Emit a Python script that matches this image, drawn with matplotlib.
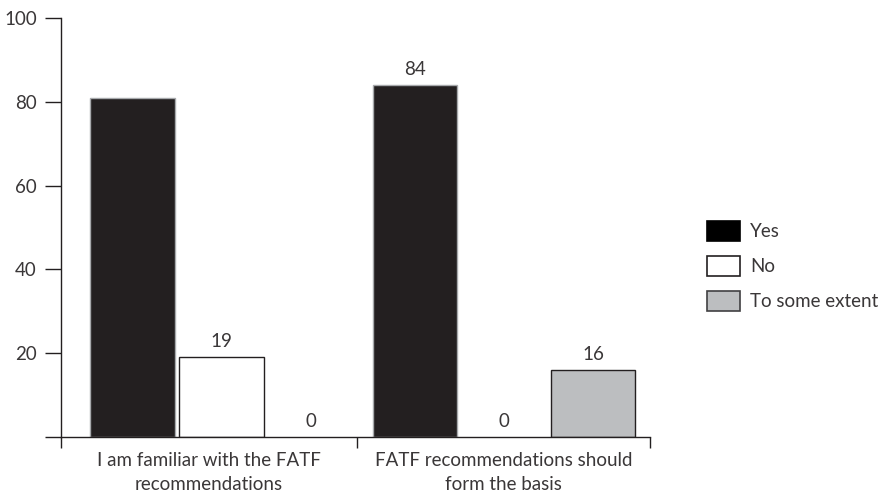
import matplotlib.pyplot as plt
import numpy as np
from matplotlib.patches import Patch
from matplotlib.ticker import FixedLocator

plt.rcParams["font.family"] = ["Lato", "DejaVu Sans"]

categories = ["I am familiar with the FATF\nrecommendations",
              "FATF recommendations should\nform the basis"]
series = ["Yes", "No", "To some extent"]
yes = [81, 84]
no = [19, 0]
some_extent = [0, 16]
show_label = [[False, True], [True, True], [True, True]]
yticks = [0, 20, 40, 60, 80, 100]
ytick_labels = ["", "20", "40", "60", "80", "100"]

colors = ["#231f20", "#ffffff", "#bcbec0"]
edges = ["#a7a9ac", "#231f20", "#231f20"]
legend_edges = ["#000000", "#231f20", "#414042"]
text_color = "#3a3738"
fs = 13.5

fig = plt.figure(figsize=(8.89, 4.97), dpi=100)
ax = fig.add_axes([61 / 889, 1 - 437 / 497, 589 / 889, 419 / 497])

x = np.arange(len(categories))
step = 0.315
width = 0.298
for j, (name, vals) in enumerate(zip(series, [yes, no, some_extent])):
    pos = x + (j - 1) * step
    lw = [1.0 if v > 0 else 0 for v in vals]
    bars = ax.bar(pos, vals, width, color=colors[j], edgecolor=edges[j],
                  linewidth=lw, zorder=2)
    for b, v, show in zip(bars, vals, show_label[j]):
        if show:
            ax.annotate(str(v), (b.get_x() + b.get_width() / 2, v),
                        xytext=(0, 5), textcoords="offset points",
                        ha="center", va="bottom", fontsize=fs, color=text_color)

left, right = -0.568, 1.517
mid = 0.480
ax.set_xlim(left, right)
ax.set_ylim(0, 100)

ax.set_xticks([(left + mid) / 2, (mid + right) / 2])
ax.set_xticklabels(categories, fontsize=fs, color=text_color, linespacing=1.45)
ax.xaxis.set_minor_locator(FixedLocator([left, mid, right]))
ax.tick_params(axis="x", which="major", length=0, pad=11)
ax.tick_params(axis="x", which="minor", length=8, width=1, color="#231f20",
               direction="out")

ax.set_yticks(yticks)
ax.set_yticklabels(ytick_labels, fontsize=fs, color=text_color)
ax.tick_params(axis="y", length=11.5, width=1, color="#231f20", pad=6)

for s in ["top", "right"]:
    ax.spines[s].set_visible(False)
for s in ["left", "bottom"]:
    ax.spines[s].set_color("#231f20")
    ax.spines[s].set_linewidth(1)
    ax.spines[s].set_zorder(3)

handles = [Patch(facecolor=("#000000" if j == 0 else colors[j]),
                 edgecolor=legend_edges[j], linewidth=1.2)
           for j in range(len(series))]
leg = fig.legend(handles, series, loc="upper left",
                 bbox_to_anchor=(707 / 889, 1 - 221 / 497),
                 frameon=False, fontsize=fs, handlelength=1.76, handleheight=1.23,
                 labelspacing=0.83, handletextpad=0.53, borderpad=0, borderaxespad=0)
for t in leg.get_texts():
    t.set_color(text_color)

fig.savefig("out.png", dpi=100)
